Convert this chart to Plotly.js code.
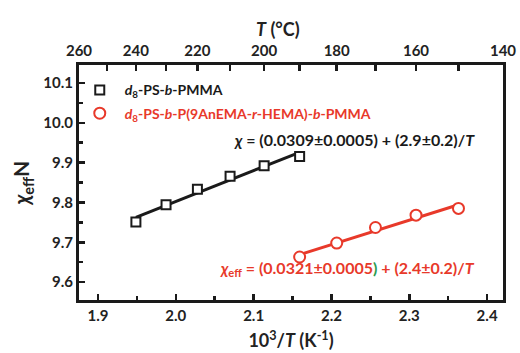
<!DOCTYPE html>
<html>
<head>
<meta charset="utf-8">
<script src="https://cdn.plot.ly/plotly-3.0.1.min.js"></script>
<style>
  html, body { margin: 0; padding: 0; background: #ffffff; }
  #chart { width: 520px; height: 353px; }
</style>
</head>
<body>
<div id="chart"></div>
<script>
// Measurement temperatures (°C) and effective interaction parameter χ_eff·N
const tempPMMA = [240, 230, 220, 210, 200, 190];
const chiNPMMA = [9.751, 9.794, 9.833, 9.866, 9.892, 9.915];

const tempAnEMA = [190, 180, 170, 160, 150];
const chiNAnEMA = [9.663, 9.698, 9.737, 9.768, 9.785];

// Top-axis temperature ticks (°C)
const topMajorC = [260, 240, 220, 200, 180, 160, 140];
const topMinorC = [250, 230, 210, 190, 170, 150];

const namePMMA = '<i>d</i><sub>8</sub>-PS-<i>b</i>-PMMA';
const nameAnEMA = '<i>d</i><sub>8</sub>-PS-<i>b</i>-P(9AnEMA-<i>r</i>-HEMA)-<i>b</i>-PMMA';

const eqPMMA = '<i>χ</i> = (0.0309±0.0005) + (2.9±0.2)/<i>T</i>';
const eqAnEMA = '<i>χ</i><sub>eff</sub> = (0.0321±0.0005<span style="color:#2e9a4e">)</span> + (2.4±0.2)/<i>T</i>';

// 10^3 / T with T in kelvin
const invT = c => 1000 / (c + 273.15);

const xPMMA = tempPMMA.map(invT);
const xAnEMA = tempAnEMA.map(invT);
const xRange = [invT(260), invT(140)];

// least-squares straight line through a series, spanning its x extent
function linearFit(xs, ys) {
  const n = xs.length;
  const mx = xs.reduce((a, b) => a + b, 0) / n;
  const my = ys.reduce((a, b) => a + b, 0) / n;
  let sxy = 0, sxx = 0;
  for (let i = 0; i < n; i++) { sxy += (xs[i] - mx) * (ys[i] - my); sxx += (xs[i] - mx) ** 2; }
  const slope = sxy / sxx;
  const x0 = Math.min(...xs), x1 = Math.max(...xs);
  return { x: [x0, x1], y: [my + slope * (x0 - mx), my + slope * (x1 - mx)] };
}
const fitPMMA = linearFit(xPMMA, chiNPMMA);
const fitAnEMA = linearFit(xAnEMA, chiNAnEMA);

const BLACK = '#1a1a1a';
const RED = '#e8392a';
const FONT = 'Lato, "Open Sans", sans-serif';

const traces = [
  { x: fitPMMA.x, y: fitPMMA.y, mode: 'lines', line: { color: BLACK, width: 3 },
    showlegend: false, hoverinfo: 'skip' },
  { x: fitAnEMA.x, y: fitAnEMA.y, mode: 'lines', line: { color: RED, width: 3 },
    showlegend: false, hoverinfo: 'skip' },
  { x: xPMMA, y: chiNPMMA, mode: 'markers', name: namePMMA, legendgroup: 'a',
    marker: { symbol: 'square', size: 9, color: '#ffffff', line: { color: BLACK, width: 2 } } },
  { x: xAnEMA, y: chiNAnEMA, mode: 'markers', name: nameAnEMA, legendgroup: 'b',
    marker: { symbol: 'circle', size: 11, color: '#ffffff', line: { color: RED, width: 2 } } },
  // carries the top temperature axis
  { x: xPMMA, y: chiNPMMA, xaxis: 'x2', yaxis: 'y', mode: 'markers',
    marker: { opacity: 0 }, showlegend: false, hoverinfo: 'skip' }
];

const tickFont = { family: FONT, size: 15, color: '#222', weight: 700 };
const titleFont = { family: FONT, size: 18, color: '#222', weight: 700 };

const layout = {
  width: 520, height: 353,
  margin: { l: 79, r: 17, t: 65, b: 53 },
  paper_bgcolor: '#ffffff', plot_bgcolor: '#ffffff',
  font: { family: FONT, color: '#222' },
  showlegend: true,
  legend: {
    x: -0.01, y: 0.96, xanchor: 'left', yanchor: 'top',
    bgcolor: 'rgba(0,0,0,0)', traceorder: 'grouped', tracegroupgap: 2,
    font: { family: FONT, size: 14, weight: 700 },
    itemwidth: 40
  },
  xaxis: {
    range: xRange, showgrid: false, zeroline: false,
    showline: true, linecolor: BLACK, linewidth: 3, mirror: false,
    tickvals: [1.9, 2.0, 2.1, 2.2, 2.3, 2.4], ticktext: ['1.9', '2.0', '2.1', '2.2', '2.3', '2.4'],
    ticks: 'inside', ticklen: 6, tickwidth: 2.5, tickcolor: BLACK,
    minor: { tickvals: [1.95, 2.05, 2.15, 2.25, 2.35], ticks: 'inside', ticklen: 4, tickwidth: 2.5, tickcolor: BLACK },
    tickfont: tickFont,
    title: { text: '10<sup>3</sup>/<i>T</i> (K<sup>-1</sup>)', font: titleFont, standoff: 12 }
  },
  xaxis2: {
    overlaying: 'x', side: 'top', anchor: 'y',
    range: xRange, showgrid: false, zeroline: false,
    showline: true, linecolor: BLACK, linewidth: 3,
    tickvals: topMajorC.map(invT), ticktext: topMajorC.map(String),
    ticks: 'inside', ticklen: 6, tickwidth: 2.5, tickcolor: BLACK,
    minor: { tickvals: topMinorC.map(invT), ticks: 'inside', ticklen: 6, tickwidth: 2.5, tickcolor: BLACK },
    tickfont: tickFont
  },
  yaxis: {
    range: [9.555, 10.145], showgrid: false, zeroline: false,
    showline: true, linecolor: BLACK, linewidth: 3, mirror: true,
    tickvals: [9.6, 9.7, 9.8, 9.9, 10.0, 10.1], ticktext: ['9.6', '9.7', '9.8', '9.9', '10.0', '10.1'],
    ticks: 'inside', ticklen: 6, tickwidth: 2.5, tickcolor: BLACK,
    minor: { tickvals: [9.65, 9.75, 9.85, 9.95, 10.05], ticks: 'inside', ticklen: 4, tickwidth: 2.5, tickcolor: BLACK },
    tickfont: tickFont,
    title: { text: '<i>χ</i><sub>eff</sub>N', font: { family: FONT, size: 21, color: '#222', weight: 700 }, standoff: 8 }
  },
  annotations: [
    // temperature axis title
    { xref: 'paper', yref: 'paper', x: 0.469, y: 1.155, xanchor: 'center', yanchor: 'middle',
      text: '<i>T</i> (°C)', showarrow: false, font: titleFont },
    { xref: 'paper', yref: 'paper', x: 0.649, y: 0.681, xanchor: 'center', yanchor: 'middle',
      text: eqPMMA, showarrow: false, font: { family: FONT, size: 16, color: BLACK, weight: 700 } },
    { xref: 'paper', yref: 'paper', x: 0.634, y: 0.136, xanchor: 'center', yanchor: 'middle',
      text: eqAnEMA, showarrow: false, font: { family: FONT, size: 16, color: RED, weight: 700 } }
  ]
};

// legend text colours follow each series
Plotly.newPlot('chart', traces, layout, { displayModeBar: false, staticPlot: true }).then(() => {
  const texts = document.querySelectorAll('.legend .traces .legendtext');
  if (texts.length > 1) {
    texts[0].style.fill = BLACK;
    texts[1].style.fill = RED;
  }
});
</script>
</body>
</html>
